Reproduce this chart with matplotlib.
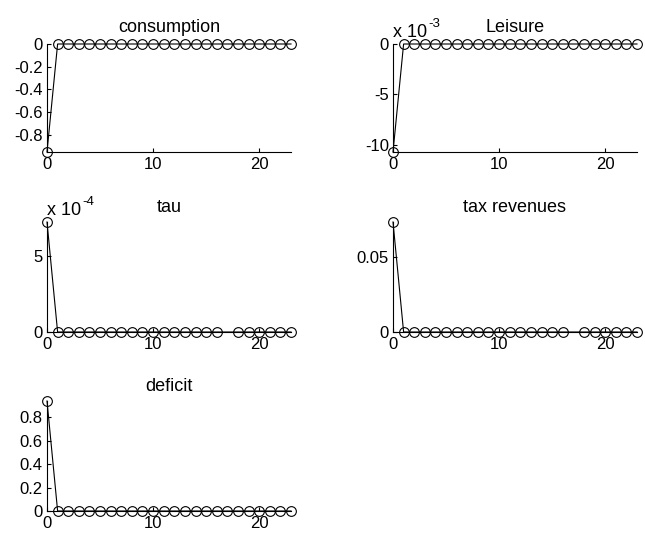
import numpy as np
import matplotlib
matplotlib.use("Agg")
import matplotlib.pyplot as plt

plt.rcParams['font.family'] = ['Liberation Sans', 'DejaVu Sans']

periods = np.arange(24)

consumption = np.zeros(24); consumption[0] = -0.952
leisure = np.zeros(24); leisure[0] = -0.01072
tau = np.zeros(24); tau[0] = 7.22e-4
tax_revenues = np.zeros(24); tax_revenues[0] = 0.0729
deficit = np.zeros(24); deficit[0] = 0.937

titles = ["consumption", "Leisure", "tau", "tax revenues", "deficit"]
series = [consumption, leisure, tau, tax_revenues, deficit]
ytick_vals = [[-0.8, -0.6, -0.4, -0.2, 0], [-10, -5, 0], [0, 5], [0, 0.05], [0, 0.2, 0.4, 0.6, 0.8]]
ytick_text = [["-0.8", "-0.6", "-0.4", "-0.2", "0"], ["-10", "-5", "0"], ["0", "5"], ["0", "0.05"],
              ["0", "0.2", "0.4", "0.6", "0.8"]]
scale_exp = [0, -3, -4, 0, 0]
xtick_vals = [0, 10, 20]

W, H = 645, 533
fig = plt.figure(figsize=(W / 100, H / 100), dpi=100)

# axes boxes in pixels: (left, top, right, bottom)
boxes = [(47, 44, 291, 152), (393, 44, 637, 152),
         (47, 222, 291, 332), (393, 222, 637, 332),
         (47, 401, 291, 511)]
title_pad = [8.6, 8.6, 7.2, 7.2, 7.2]

for i, (name, y) in enumerate(zip(titles, series)):
    l, t, r, b = boxes[i]
    ax = fig.add_axes([l / W, 1 - b / H, (r - l) / W, (b - t) / H])
    marks = list(range(24))
    if name in ("tau", "tax revenues"):
        marks.remove(17)
    ax.plot(periods, y, color='black', lw=0.8, marker='o', ms=7, mfc='none',
            mec='black', mew=0.8, markevery=marks, clip_on=False, zorder=3)
    ax.set_xlim(0, 23)
    ax.set_ylim(min(y.min(), 0), max(y.max(), 0))
    for s in ('top', 'right'):
        ax.spines[s].set_visible(False)
    for s in ('left', 'bottom'):
        ax.spines[s].set_linewidth(0.8)
    ax.set_xticks(xtick_vals)
    ax.set_xticklabels([str(v) for v in xtick_vals])
    sc = 10.0 ** scale_exp[i]
    ax.set_yticks([v * sc for v in ytick_vals[i]])
    ax.set_yticklabels(ytick_text[i])
    ax.tick_params(direction='in', length=3, width=0.8, labelsize=12)
    ax.tick_params(axis='x', pad=3.5)
    ax.tick_params(axis='y', pad=3)
    ax.set_title(name, fontsize=13, pad=title_pad[i])
    if scale_exp[i] != 0:
        # axis scale factor, e.g. "x 10^-3", above the top of the y axis
        base = ax.annotate('x 10', xy=(0, 1), xycoords='axes fraction',
                           xytext=(0, 7), textcoords='offset pixels',
                           ha='left', va='baseline', fontsize=13)
        ax.annotate('%d' % scale_exp[i], xy=(1, 1), xycoords=base,
                    xytext=(1, -3), textcoords='offset pixels',
                    ha='left', va='baseline', fontsize=9.5)

fig.savefig("out.png", dpi=100)
